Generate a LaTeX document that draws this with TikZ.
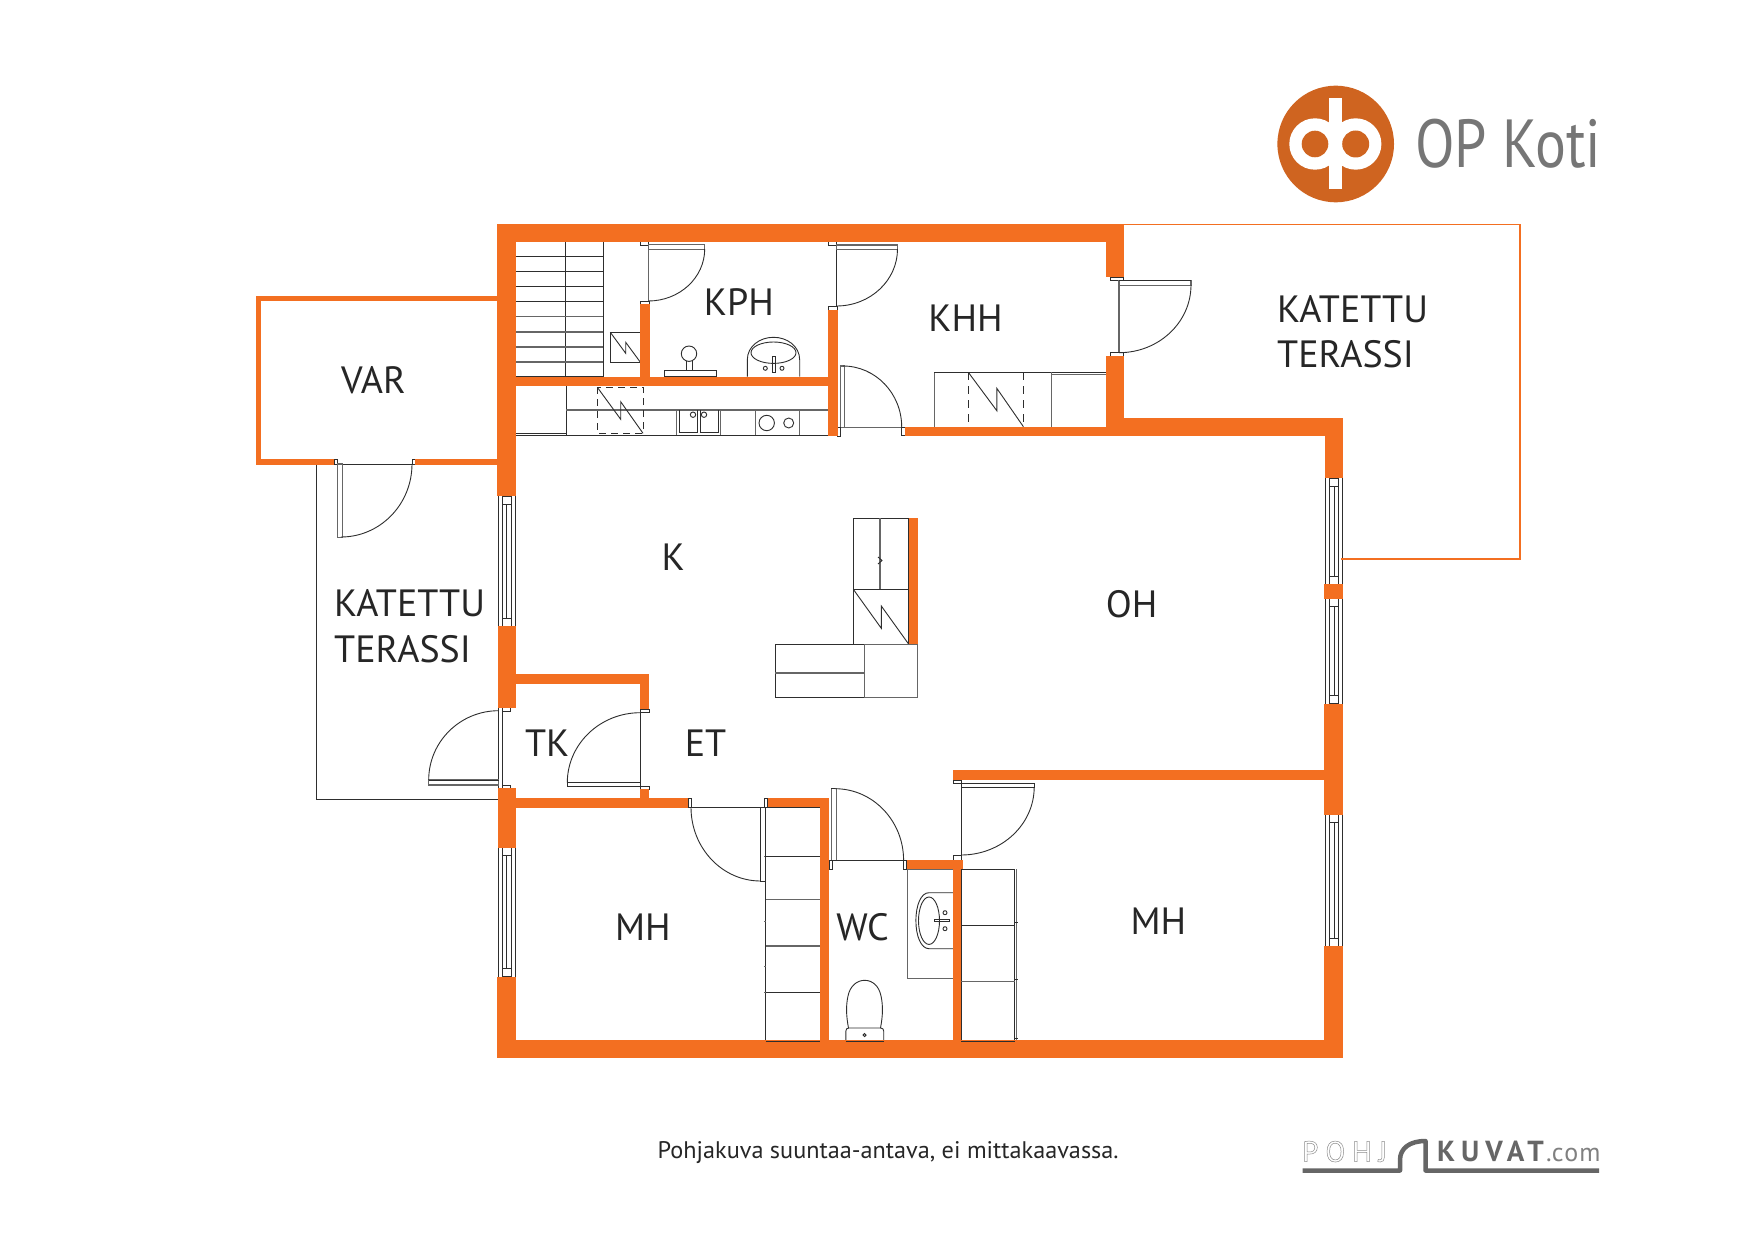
\documentclass[tikz,border=0pt]{standalone}
\usepackage{fontspec}
\usepackage{graphicx}
\setmainfont{PT Sans}
\definecolor{wall}{HTML}{F36F21}
\definecolor{logoor}{HTML}{CF6420}
\definecolor{ink}{HTML}{262626}
\definecolor{thin}{HTML}{2E2E2E}
\definecolor{grayl}{HTML}{666666}
\definecolor{optext}{HTML}{767676}
\definecolor{pk}{HTML}{666666}
\definecolor{pkl}{HTML}{808080}
\newcommand\qarc[4]{\draw[fine] ({#1+#3},{#2}) .. controls ({#1+#3},{#2+.552*(#4)}) and ({#1+.552*(#3)},{#2+#4}) .. ({#1},{#2+#4});}
\newcommand\vwin[3]{%
  \draw[fine] (#1,#2) -- (#1,#3);
  \draw[fine] (#1+17,#2) -- (#1+17,#3);
  \draw[fine] (#1+4,#2) -- (#1+4,#3);
  \draw[fine] (#1+13,#2) -- (#1+13,#3);
  \draw[fine] (#1+4,#2+8) rectangle (#1+13,#3-8);
  \draw[fine] (#1+8.5,#2+8) -- (#1+8.5,#3-8);
  \draw[fine] (#1+4,#2) -- (#1+13,#2);
  \draw[fine] (#1+4,#3) -- (#1+13,#3);}
\newcommand\wl[4]{\fill[wall] (#1,#2) rectangle (#3,#4);}
\tikzset{
  fine/.style={draw=thin,line width=0.9pt},
  grayfine/.style={draw=grayl,line width=1.1pt},
  room/.style={anchor=base,text=ink,inner sep=0pt,font=\fontsize{38}{46}\selectfont},
}
\begin{document}
\begin{tikzpicture}[x=1pt,y=-1pt]
\useasboundingbox (0,0) rectangle (1754,1241);
\fill[white] (0,0) rectangle (1754,1241);

% --- stairs
\draw[fine] (515,241.7) rectangle (603.3,376.7);
\draw[fine] (565.3,241.7) -- (565.3,376.7);
\foreach \y in {256.3,271.3,286.3,301.3} {\draw[fine] (515,\y) -- (603.3,\y);}
\foreach \y in {316.7,332,347,362} {\draw[grayfine] (515,\y) -- (603.3,\y);}
% --- shaft by the stairs
\draw[fine] (610.3,332.3) rectangle (640.3,362.7);
\draw[fine] (610.3,332.3) -- (625.7,353.3) -- (625.7,342.3) -- (640.7,362.7);
% --- KPH fixtures
\draw[fine] (664,370.3) rectangle (716.7,376.7);
\draw[fine] (686,370.3) -- (686,361);
\draw[fine] (692.7,370.3) -- (692.7,361);
\draw[fine] (689,353.7) circle[radius=7.7];
\draw[fine] (747.3,376.7) -- (747.3,360) .. controls (747.3,346) and (760,337.3) .. (773.5,337.3) .. controls (787,337.3) and (799.7,346) .. (799.7,360) -- (799.7,376.7);
\draw[fine] (773.5,352.7) ellipse[x radius=22.5,y radius=10.7];
\draw[fine] (772.3,356.7) rectangle (775,372.7);
\draw[fine] (765.3,368.3) circle[radius=2];
\draw[fine] (782,368.3) circle[radius=2];
% --- kitchen counter
\draw[fine] (515,385.3) rectangle (566.3,433.3);
\draw[fine] (515,435.3) -- (828.3,435.3);
\draw[fine] (566.3,433.3) -- (566.3,435.3);
\draw[draw=grayl,line width=2.2pt] (566.3,410) -- (828.3,410);
\draw[fine,dashed,dash pattern=on 7pt off 5pt] (597.3,387.3) rectangle (643,433.3);
\draw[fine] (597.3,387.3) -- (620.7,419.3) -- (620.7,401.7) -- (643,433.3);
\draw[grayfine] (676.3,410) -- (676.3,435.3);
\draw[grayfine] (720.3,410) -- (720.3,435.3);
\draw[fine] (679.3,410) -- (679.3,432) -- (697.7,432) -- (697.7,410);
\draw[fine] (700.3,410) -- (700.3,432) -- (718.3,432) -- (718.3,410);
\draw[fine] (693,414.7) circle[radius=2.7];
\draw[fine] (704,414.7) circle[radius=2.7];
\draw[grayfine] (755.7,410) -- (755.7,435.3);
\draw[grayfine] (799.7,410) -- (799.7,435.3);
\draw[fine] (766.7,423) circle[radius=7.7];
\draw[fine] (788.7,423) circle[radius=5];
% --- KHH unit
\draw[grayfine] (934.3,372.3) rectangle (1107,427.3);
\draw[fine] (934.3,372.3) -- (1107,372.3);
\draw[grayfine] (1051.4,372.3) -- (1051.4,427.3);
\draw[grayfine] (1051.4,374.5) -- (1107,374.5);
\draw[fine,dashed,dash pattern=on 8pt off 6pt] (968.3,372.3) -- (968.3,427);
\draw[fine,dashed,dash pattern=on 8pt off 6pt] (1023.4,372.3) -- (1023.4,427);
\draw[fine] (968.3,372.3) -- (996.8,410.7) -- (996.8,388.3) -- (1023.4,426.7);
% --- island
\draw[fine] (853.3,518.3) rectangle (908.8,644.3);
\draw[fine] (853.3,589.3) -- (908.8,589.3);
\draw[draw=grayl,line width=1.3pt] (880,518.3) -- (880,589.3);
\draw[fine] (853.3,589.3) -- (881.3,628.3) -- (881.3,606) -- (908.8,644.3);
\draw[fine] (878,557) -- (882,560.5) -- (878,564);
\draw[fine] (775.3,644.3) rectangle (864.4,697.3);
\draw[grayfine] (864.4,644.3) rectangle (917.6,697.3);
\draw[fine] (775.3,697.3) -- (864.4,697.3);
\draw[grayfine] (775.3,673) -- (864.4,673);
% --- wardrobes
\draw[fine] (765.9,807.3) -- (765.9,1041);
\draw[grayfine] (820.2,807.3) -- (820.2,1041);
\draw[fine] (765.9,856) -- (820.2,856);
\draw[grayfine] (765.9,899.7) -- (820.2,899.7);
\draw[grayfine] (765.9,946) -- (820.2,946);
\draw[fine] (765.9,992.3) -- (820.2,992.3);
\foreach \y in {856,921,992.3,1040,966} {\draw[grayfine,line width=.7pt] (764,\y) -- (766,\y);}
\draw[fine] (961.4,869) -- (961.4,1041);
\draw[fine] (1014.6,869) -- (1014.6,1041);
\draw[grayfine] (1016.5,869) -- (1016.5,1041);
\draw[fine] (961.4,869) -- (1014.6,869);
\draw[fine] (961.4,925.3) -- (1014.6,925.3);
\draw[grayfine] (961.4,981.7) -- (1014.6,981.7);
\foreach \y in {922.7,979.3,1038} {\draw[fine,line width=.8pt] (1015,\y) -- (1018,\y);}
% --- WC fixtures
\draw[grayfine] (907.9,869) rectangle (953.4,978.3);
\draw[fine] (953.4,892.7) -- (929,892.7) .. controls (921,892.7) and (915.9,905) .. (915.9,920.7) .. controls (915.9,936) and (921,948.7) .. (929,948.7) -- (953.4,948.7);
\draw[fine] (929,920.7) ellipse[x radius=10.5,y radius=23.7];
\draw[fine] (934.6,919.7) rectangle (949.2,921.9);
\draw[fine] (945,912.7) circle[radius=2];
\draw[fine] (945,928.7) circle[radius=2];
\draw[fine] (848.5,1028) .. controls (846,1015) and (846,1005) .. (848,996) .. controls (850,986) and (857,980.3) .. (864.6,980.3) .. controls (872.5,980.3) and (879,986) .. (881,996) .. controls (883,1005) and (883,1015) .. (880.5,1028);
\draw[fine] (845.9,1041) -- (845.9,1031) .. controls (845.9,1029) and (847,1028) .. (849,1028) -- (880.5,1028) .. controls (882.5,1028) and (883.7,1029) .. (883.7,1031) -- (883.7,1041);
\draw[fine] (864.6,1035) circle[radius=1.5];

% --- doors: KPH
\draw[fine] (640.3,241.7) rectangle (648.3,245);
\draw[grayfine] (648.3,245) -- (648.3,301);
\draw[grayfine] (648.3,244.7) rectangle (704.7,249.3);
\qarc{648.3}{249}{56.4}{52}
\draw[fine] (640.3,301) rectangle (649.7,304);
% --- doors: KPH/KHH
\draw[fine] (828.3,241.7) rectangle (836.5,245);
\draw[fine] (836.5,245) -- (836.5,306);
\draw[grayfine] (836.5,245) rectangle (897.6,249.3);
\qarc{836.5}{249}{61}{57}
\draw[fine] (828.3,306) rectangle (837.5,310);
% --- doors: KHH/kitchen
\draw[grayfine] (840.7,366) rectangle (844.8,427.3);
\qarc{843}{427}{58.7}{-61}
\draw[grayfine] (840.7,427.3) -- (901.7,427.3);
\draw[fine] (837.5,427) rectangle (840.7,436);
\draw[fine] (901.7,427) rectangle (905.4,435.5);
% --- doors: KHH/terrace
\draw[fine] (1110.6,277.3) rectangle (1123.5,280.7);
\draw[grayfine] (1119,280) -- (1119,353);
\draw[grayfine] (1119,280.7) rectangle (1191,285.3);
\draw[fine] (1119,280.7) -- (1191,280.7);
\qarc{1119}{285}{72}{67.7}
\draw[fine] (1110.6,352.7) rectangle (1123.5,356);
% --- doors: VAR
\draw[fine] (316.3,464) -- (412,464);
\draw[fine] (334,459) rectangle (337.5,464.7);
\draw[fine] (412,459) rectangle (415,464.7);
\draw[grayfine] (337.7,464) rectangle (342.3,537.3);
\qarc{341}{464}{71}{73}
% --- doors: terrace/TK
\draw[fine] (502.3,707.7) -- (502.3,785);
\draw[fine] (498.7,707.7) -- (498.7,788);
\draw[fine] (502.3,707.7) rectangle (510.7,711);
\draw[fine] (502.3,785) rectangle (510.7,788.3);
\draw[grayfine] (428.7,780) rectangle (498.7,785);
\draw[fine] (428.7,780) -- (498.7,780);
\qarc{498.7}{780}{-70}{-69.3}
% --- doors: TK/ET
\draw[fine] (640.3,709.3) -- (640.3,786.7);
\draw[fine] (567.3,782.7) rectangle (640.3,786.7);
\qarc{640.3}{782.7}{-73}{-70}
\draw[fine] (640,709.3) rectangle (649.3,712.5);
\draw[fine] (640,786.7) rectangle (649.3,789.3);
% --- doors: MH left
\draw[fine] (688.3,798.3) rectangle (691.2,807.5);
\draw[fine] (760.5,807.3) rectangle (765,881);
\qarc{760.5}{807.3}{-69.5}{73.7}
\draw[fine] (764.3,798.3) rectangle (767.8,807.3);
% --- doors: WC
\draw[grayfine] (831.3,788.7) rectangle (836.7,860.3);
\draw[fine] (831.3,788.7) -- (835,788.7);
\qarc{835}{860.3}{68.6}{-71.6}
\draw[fine] (829,860.3) -- (903.6,860.3);
\draw[fine] (829,860.3) rectangle (832,869);
\draw[fine] (903.6,860.3) rectangle (906.7,869);
% --- doors: MH right
\draw[fine] (953.6,780) rectangle (961.2,783.3);
\draw[fine] (961.2,783.3) -- (961.2,855.7);
\draw[fine] (961.2,783.3) rectangle (1034.3,787.3);
\qarc{961.2}{787}{73}{68}
\draw[fine] (953.6,855.7) rectangle (961.2,860);

% --- windows
\vwin{498.3}{496}{626}
\vwin{498.3}{847.7}{976.7}
\vwin{1325.5}{478.3}{584}
\vwin{1325.5}{598.7}{703.7}
\vwin{1325.5}{814.7}{946}

% --- terrace outlines
\draw[fine] (316.3,464.7) -- (316.3,799.3) -- (498,799.3);
\draw[fine] (498,464.7) -- (498,496);
\draw[wall,line width=1.8pt] (1124,224.5) -- (1520,224.5) -- (1520,559) -- (1341,559);

% --- walls
\wl{497.4}{223.7}{515.8}{496}
\wl{497.4}{223.7}{1124}{242}
\wl{1106}{223.7}{1124}{277.3}
\wl{1106}{356}{1124}{436}
\wl{905.4}{427}{1342.8}{436}
\wl{1106}{418.3}{1342.8}{436}
\wl{1325}{418.3}{1342.8}{478.3}
\wl{515}{376.7}{838}{385.8}
\wl{640.3}{304}{649.7}{377}
\wl{828.3}{310}{837.5}{436}
\wl{498.3}{626}{515.7}{707.7}
\wl{515.7}{673.7}{649.3}{683.7}
\wl{640}{673.7}{649.3}{709.3}
\wl{498}{788.3}{515.7}{847.7}
\wl{515.7}{798.3}{688.3}{807.7}
\wl{640}{789.3}{649.3}{798.3}
\wl{497.2}{976.7}{515.6}{1058.3}
\wl{497.2}{1040.3}{1342.8}{1058.3}
\wl{1324}{584}{1342.8}{598.7}
\wl{1324}{703.7}{1342.8}{814.7}
\wl{1324}{946}{1342.8}{1058.3}
\wl{952.8}{770.3}{1325}{780}
\wl{767.8}{798.3}{829}{807.3}
\wl{820.2}{798.3}{829}{1040.3}
\wl{906.7}{860}{962.6}{869}
\wl{953.4}{869}{961.4}{1040.3}
\wl{908.8}{517.7}{917.6}{644.3}
\wl{255.8}{296}{497.4}{301.3}
\wl{255.8}{296}{261.4}{464.7}
\wl{255.8}{459}{334}{464.7}
\wl{415}{459}{497.4}{464.7}

% --- lines that lie over the walls
\draw[fine] (691.2,807.3) -- (820.2,807.3);
\draw[fine] (765.9,1041) -- (820.2,1041);
\draw[fine] (961.4,1041) -- (1014.6,1041);
\draw[fine] (845.9,1041) -- (883.7,1041);

% --- room labels
\node[room] (lvar) at (373.4,393.3) {VAR};
\node[room] (lkph) at (738.8,315.7) {KPH};
\node[room] (lkhh) at (965.6,331.7) {KHH};
\node[room,anchor=base west] (lkat1) at (1277,322.7) {KATETTU};
\node[room,anchor=base west] (lter1) at (1277,367.7) {TERASSI};
\node[room,anchor=base west] (lkat2) at (334,616.7) {KATETTU};
\node[room,anchor=base west] (lter2) at (334,662) {TERASSI};
\node[room] (lk) at (673.3,570.7) {K};
\node[room] (ltk) at (547.2,756.7) {TK};
\node[room] (let) at (705.5,756.7) {ET};
\node[room] (loh) at (1131.7,617.7) {OH};
\node[room] (lmh1) at (642.8,940.7) {MH};
\node[room] (lwc) at (862.5,940.7) {WC};
\node[room] (lmh2) at (1158.3,934) {MH};

% --- OP logo
\fill[logoor] (1335.7,144) circle[radius=58.3];
\fill[white] (1315,144) circle[radius=25.7];
\fill[white] (1355.7,144) circle[radius=25.7];
\fill[logoor] (1315,144) circle[radius=13.3];
\fill[logoor] (1355.7,144) circle[radius=13.5];
\fill[white] (1329.3,98.3) rectangle (1341.7,189.3);
\node[anchor=base west,inner sep=0pt,text=optext,font=\fontsize{68}{80}\selectfont] (opk) at (1415,167.7) {\scalebox{0.85}[1]{OP Koti}};

% --- footer
\node[anchor=base west,inner sep=0pt,text=ink,font=\fontsize{24}{30}\selectfont] (foot) at (657.5,1158.3) {\scalebox{1.01}[1]{Pohjakuva suuntaa-antava, ei mittakaavassa.}};
\node[anchor=base west,inner sep=0pt,text=pkl,font=\fontsize{29}{34}\selectfont] (pk1) at (1302,1161.7) {\special{pdf:code 1 Tr 0.5 w 0.55 G}P\hspace{7pt}O\hspace{7pt}H\hspace{7pt}J\special{pdf:code 0 Tr}};
\node[anchor=base west,inner sep=0pt,text=pk,font=\bfseries\fontsize{29}{34}\selectfont] (pk2) at (1437,1161.7) {K\hspace{6pt}U\hspace{6pt}V\hspace{4pt}A\hspace{3pt}T};
\node[anchor=base west,inner sep=0pt,text=pkl,font=\fontsize{26}{30}\selectfont] (pk3) at (1546,1161) {.c\hspace{1pt}o\hspace{1pt}m};
\draw[pk,line width=4.5pt,line join=round] (1302.5,1170.5) -- (1400,1170.5) -- (1400,1160) .. controls (1400,1148) and (1410,1141) .. (1425.5,1141) -- (1425.5,1170.5) -- (1599,1170.5);
\end{tikzpicture}
\end{document}
